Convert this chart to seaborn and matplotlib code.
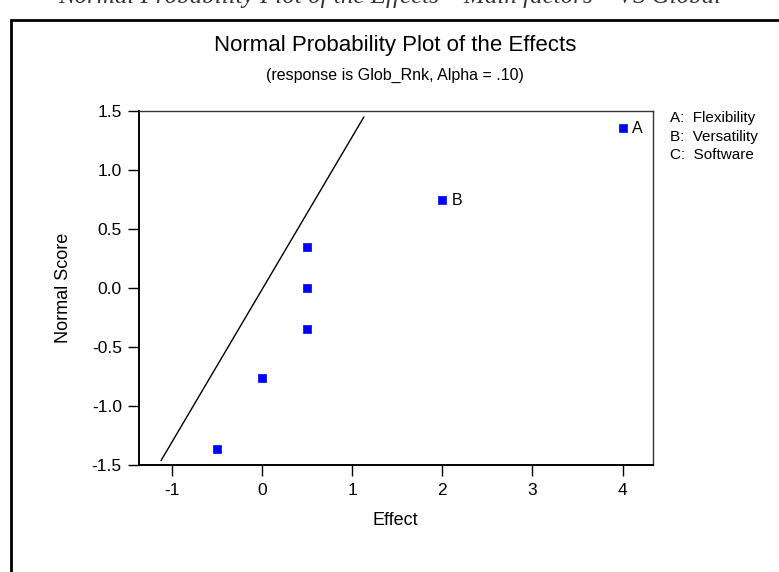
#!/usr/bin/env python3
import matplotlib
matplotlib.use('Agg')
import matplotlib.pyplot as plt
from matplotlib.patches import Rectangle
import numpy as np
import pandas as pd
import seaborn as sns

# data
effects = [4.0, 2.0, 0.5, 0.5, 0.5, 0.0, -0.5]
normal_scores = [1.36, 0.75, 0.35, 0.0, -0.35, -0.76, -1.36]
point_labels = ["A", "B", "", "", "", "", ""]

# fitted reference line (two end points)
line_effect = [-1.12, 1.13]
line_score = [-1.46, 1.45]

factor_names = ["A:  Flexibility", "B:  Versatility", "C:  Software"]
x_ticks = [-1, 0, 1, 2, 3, 4]
y_ticks = [-1.5, -1.0, -0.5, 0.0, 0.5, 1.0, 1.5]

sns.set_style("white")
plt.rcParams['font.family'] = ['Liberation Sans', 'DejaVu Sans']
plt.rcParams['axes.unicode_minus'] = False
plt.rcParams['text.color'] = 'black'
plt.rcParams['axes.labelcolor'] = 'black'

df = pd.DataFrame({"Effect": effects, "Normal Score": normal_scores, "label": point_labels})
line_df = pd.DataFrame({"Effect": line_effect, "Normal Score": line_score})

fig = plt.figure(figsize=(7.79, 5.72), dpi=100)
ax = fig.add_axes([0.1778, 0.1866, 0.8383 - 0.1778, 0.8059 - 0.1866])

sns.lineplot(data=line_df, x="Effect", y="Normal Score", color="black", linewidth=1, ax=ax)
sns.scatterplot(data=df, x="Effect", y="Normal Score", marker="s", s=28,
                color="#0000ff", edgecolor="#0000ff", linewidth=0.5, ax=ax, zorder=3)

for _, r in df.iterrows():
    if r["label"]:
        ax.annotate(r["label"], (r["Effect"], r["Normal Score"]), xytext=(7, -1),
                    textcoords="offset points", va="center", ha="left", fontsize=11.5)

ax.set_xlim(-1.37, 4.337)
ax.set_ylim(-1.5, 1.5)
ax.set_xticks(x_ticks)
ax.set_yticks(y_ticks)
ax.set_yticklabels([f"{v:.1f}" for v in y_ticks])
ax.tick_params(bottom=True, left=True, direction="out", length=8, width=1,
               colors="black", labelsize=12.5)
ax.tick_params(axis="y", pad=4)
ax.tick_params(axis="x", pad=5)
ax.set_xlabel("Effect", fontsize=13, labelpad=10)
ax.set_ylabel("Normal Score", fontsize=13, labelpad=14)

for side in ["top", "right"]:
    ax.spines[side].set_color("#333333")
    ax.spines[side].set_linewidth(1)
for side in ["left", "bottom"]:
    ax.spines[side].set_color("black")
    ax.spines[side].set_linewidth(1.4)

fig.text(0.507, 1 - 45 / 572, "Normal Probability Plot of the Effects",
         ha="center", va="center", fontsize=16)
fig.text(0.507, 1 - 75 / 572, "(response is Glob_Rnk, Alpha = .10)",
         ha="center", va="center", fontsize=11.5)

for i, name in enumerate(factor_names):
    fig.text(670 / 779, 1 - (118 + i * 18.5) / 572, name, ha="left", va="center", fontsize=11)

# frame round the graph window, cut off at right and bottom
fig.patches.append(Rectangle((11 / 779, -0.05), 1.0, 1 - 20 / 572 + 0.05,
                             transform=fig.transFigure, fill=False,
                             edgecolor="black", linewidth=2))

# caption of the page above, mostly cut off at the top edge
fig.text(0.5, 1 - 3 / 572, "Normal Probability Plot of the Effects \u2013 Main factors \u2013 VS Global",
         ha="center", va="baseline", fontsize=18, style="italic",
         family=["Liberation Serif", "DejaVu Serif"], color="#333333")

fig.savefig("out.png", dpi=100)
